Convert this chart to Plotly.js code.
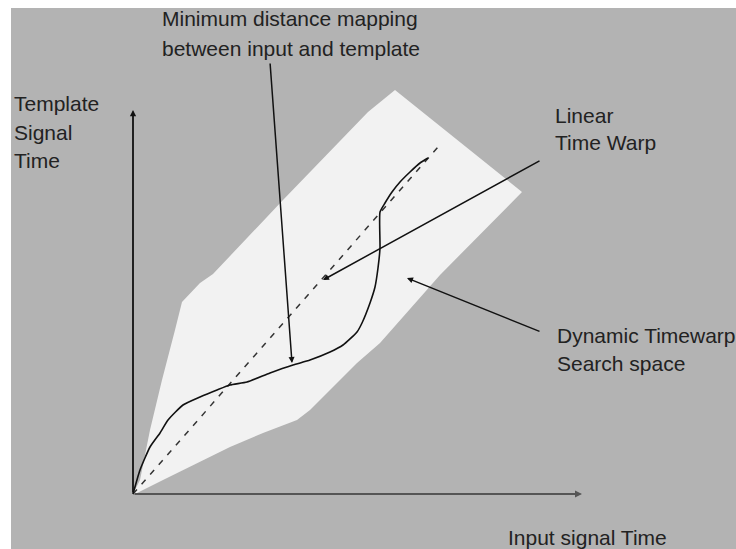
<!DOCTYPE html>
<html>
<head>
<meta charset="utf-8">
<script src="https://cdn.plot.ly/plotly-3.0.1.min.js"></script>
<style>html,body{margin:0;padding:0;background:#fff;}#chart{width:736px;height:549px;}</style>
</head>
<body>
<div id="chart"></div>
<script>
// Search-space region (input time x, template time y)
const spaceX = [0, 7, 17, 29, 42, 49, 67, 80, 150, 235, 262, 389, 307, 247, 224, 197, 177, 164, 130, 97, 64, 30, 4];
const spaceY = [0, 14, 64, 114, 164, 192, 211, 220, 294, 382, 404, 302, 219, 151, 131, 104, 84, 74, 61, 47, 31, 14, 1];
// Linear time warp (dashed diagonal)
const linearX = [0, 305];
const linearY = [0, 347];
// Minimum distance warping path
const pathX = [0, 7, 17, 27, 35, 50, 67, 84, 97, 114, 137, 160, 177, 197, 210, 224, 229, 237, 242, 245, 247, 247, 252, 259, 267, 277, 287, 295];
const pathY = [0, 24, 47, 61, 74, 89, 97, 104, 109, 112, 121, 129, 134, 142, 149, 162, 171, 191, 207, 226, 246, 282, 291, 302, 312, 322, 331, 336];
// Axis arrows: [tailX, tailY, tipX, tipY]
const axisArrows = [[0, 0, 0, 384], [0, 0, 449, 0]];
// Callout arrows: [tailX, tailY, tipX, tipY]
const calloutArrows = [[137, 432, 159, 131], [408, 334, 190, 214], [408, 162, 274, 216]];
// Text labels
const labelText = ["Minimum distance mapping", "between input and template", "Template", "Signal", "Time", "Linear", "Time Warp", "Dynamic Timewarp", "Search space", "Input signal Time"];
const labelX = [27, 27, -121, -121, -121, 420, 420, 422, 422, 373];
const labelY = [476, 446, 391, 362, 334, 379, 352, 159, 131, -43];

const traces = [
  {x: spaceX, y: spaceY, mode: 'lines', fill: 'toself', fillcolor: '#f2f2f2', line: {width: 0, color: '#f2f2f2'}, hoverinfo: 'skip'},
  {x: linearX, y: linearY, mode: 'lines', line: {color: '#333', width: 1.5, dash: '6px,7px'}, hoverinfo: 'skip'},
  {x: pathX, y: pathY, mode: 'lines', line: {color: '#111', width: 1.6, shape: 'spline', smoothing: 0.5}, hoverinfo: 'skip'}
];

const annotations = [];
axisArrows.forEach((a, i) => annotations.push({
  x: a[2], y: a[3], ax: a[0], ay: a[1], xref: 'x', yref: 'y', axref: 'x', ayref: 'y',
  showarrow: true, arrowhead: 2, arrowsize: 0.7, arrowwidth: i === 0 ? 1.8 : 2,
  arrowcolor: i === 0 ? '#111' : '#555', text: ''
}));
calloutArrows.forEach(a => annotations.push({
  x: a[2], y: a[3], ax: a[0], ay: a[1], xref: 'x', yref: 'y', axref: 'x', ayref: 'y',
  showarrow: true, arrowhead: 2, arrowsize: 0.8, arrowwidth: 1.5, arrowcolor: '#111', text: ''
}));
labelText.forEach((t, i) => annotations.push({
  x: labelX[i], y: labelY[i], xref: 'x', yref: 'y', text: t, showarrow: false,
  xanchor: 'left', yanchor: 'middle',
  font: {family: 'Liberation Sans, Arial, sans-serif', size: 21, color: '#222'}
}));

const layout = {
  width: 736, height: 549,
  margin: {l: 11, t: 8, r: 0, b: 0, pad: 0},
  paper_bgcolor: '#ffffff', plot_bgcolor: '#b3b3b3',
  showlegend: false,
  xaxis: {range: [-122, 603], visible: false, fixedrange: true},
  yaxis: {range: [-55, 486], visible: false, fixedrange: true},
  annotations: annotations
};
Plotly.newPlot('chart', traces, layout, {displayModeBar: false, staticPlot: true});
</script>
</body>
</html>
